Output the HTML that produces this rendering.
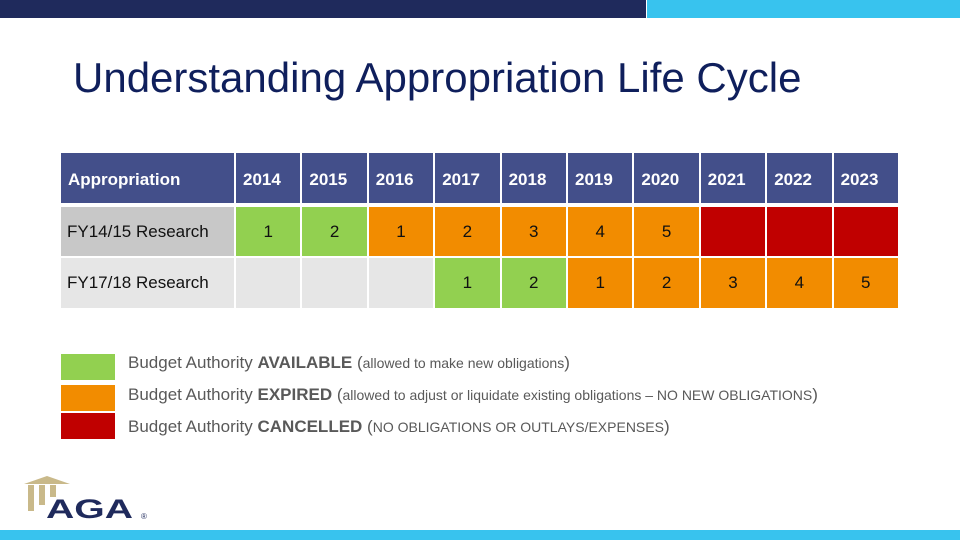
<!DOCTYPE html>
<html><head><meta charset="utf-8"><style>
*{margin:0;padding:0;box-sizing:border-box}
body{width:960px;height:540px;position:relative;background:#fff;font-family:"Liberation Sans",Arial,sans-serif;overflow:hidden}
.a{position:absolute}
.c{position:absolute;display:flex;align-items:center;font-size:17px;color:#111}
.h{background:#434f8a;color:#fff;font-weight:bold;padding-left:7px;padding-top:4px}
.b{justify-content:center}
.lg{position:absolute;left:128px;font-size:17px;color:#595959;white-space:nowrap}
.lg small{font-size:14px}
</style></head><body>
<div class="a" style="left:0;top:0;width:646px;height:18px;background:#1f2a5c"></div>
<div class="a" style="left:647px;top:0;width:313px;height:18px;background:#38c3ee"></div>
<div class="a" style="left:73px;top:57px;font-size:42px;line-height:1;color:#0f1f5c;white-space:nowrap">Understanding Appropriation Life Cycle</div>
<div id="tbl"></div>
<div class="a" style="left:61px;top:354px;width:54px;height:26px;background:#92d050"></div>
<div class="a" style="left:61px;top:385px;width:54px;height:26px;background:#f28c00"></div>
<div class="a" style="left:61px;top:413px;width:54px;height:26px;background:#c00000"></div>
<div class="lg" style="top:353px">Budget Authority <b>AVAILABLE</b> (<small>allowed to make new obligations</small>)</div>
<div class="lg" style="top:385px">Budget Authority <b>EXPIRED</b> (<small>allowed to adjust or liquidate existing obligations – NO NEW OBLIGATIONS</small>)</div>
<div class="lg" style="top:417px">Budget Authority <b>CANCELLED</b> (<small>NO OBLIGATIONS OR OUTLAYS/EXPENSES</small>)</div>
<div class="a" style="left:22px;top:474px;width:130px;height:50px">
 <div class="a" style="left:2px;top:2px;width:46px;height:8px;background:#c9b98a;clip-path:polygon(50% 0,100% 100%,0 100%)"></div>
 <div class="a" style="left:6px;top:11px;width:6px;height:26px;background:#c9b98a"></div>
 <div class="a" style="left:17px;top:11px;width:6px;height:20px;background:#c9b98a"></div>
 <div class="a" style="left:28px;top:11px;width:6px;height:12px;background:#c9b98a"></div>
 <div class="a" style="left:24px;top:22px;font-family:'Liberation Sans',sans-serif;font-weight:bold;font-size:27px;line-height:1;color:#1f2a5c;transform:scaleX(1.45);transform-origin:left">AGA</div>
 <div class="a" style="left:119px;top:38px;font-size:8px;color:#1f2a5c">®</div>
</div>
<div class="a" style="left:0;top:530px;width:960px;height:10px;background:#38c3ee"></div>
<script>
const years=["2014","2015","2016","2017","2018","2019","2020","2021","2022","2023"];
const rows=["FY14/15 Research","FY17/18 Research"];
const status1=["A","A","E","E","E","E","E","C","C","C"];
const values1=["1","2","1","2","3","4","5","","",""];
const status2=["N","N","N","A","A","E","E","E","E","E"];
const values2=["","","","1","2","1","2","3","4","5"];
const colors={A:"#92d050",E:"#f28c00",C:"#c00000",N:"#e6e6e6"};
const tbl=document.getElementById('tbl');
function cell(x,y,w,h,cls,txt,bg,name){
 const d=document.createElement('div');
 d.className='c '+cls;
 d.style.left=x+'px';d.style.top=y+'px';d.style.width=w+'px';d.style.height=h+'px';
 if(bg)d.style.background=bg;
 d.textContent=txt;
 
 
 tbl.appendChild(d);return d;
}
const x0=236,cw=66.4,g=2,rowY=[153,207,258],rowH=[50,49,50];
cell(61,153,173,50,'h','Appropriation',null,'header-appropriation');
years.forEach((y,i)=>cell(x0+i*cw,153,cw-g,50,'h',y,null,'header-'+y));
const rl1=cell(61,207,173,49,'',rows[0],'#c8c8c8','row-label-fy14-15');rl1.style.paddingLeft='6px';
const rl2=cell(61,258,173,50,'',rows[1],'#e6e6e6','row-label-fy17-18');rl2.style.paddingLeft='6px';
const sets=[[status1,values1],[status2,values2]];
sets.forEach(([st,vals],r)=>{
 years.forEach((y,i)=>cell(x0+i*cw,rowY[r+1],cw-g,rowH[r+1],'b',vals[i],colors[st[i]],'cell-row'+(r+1)+'-'+y));
});
</script>
</body></html>
